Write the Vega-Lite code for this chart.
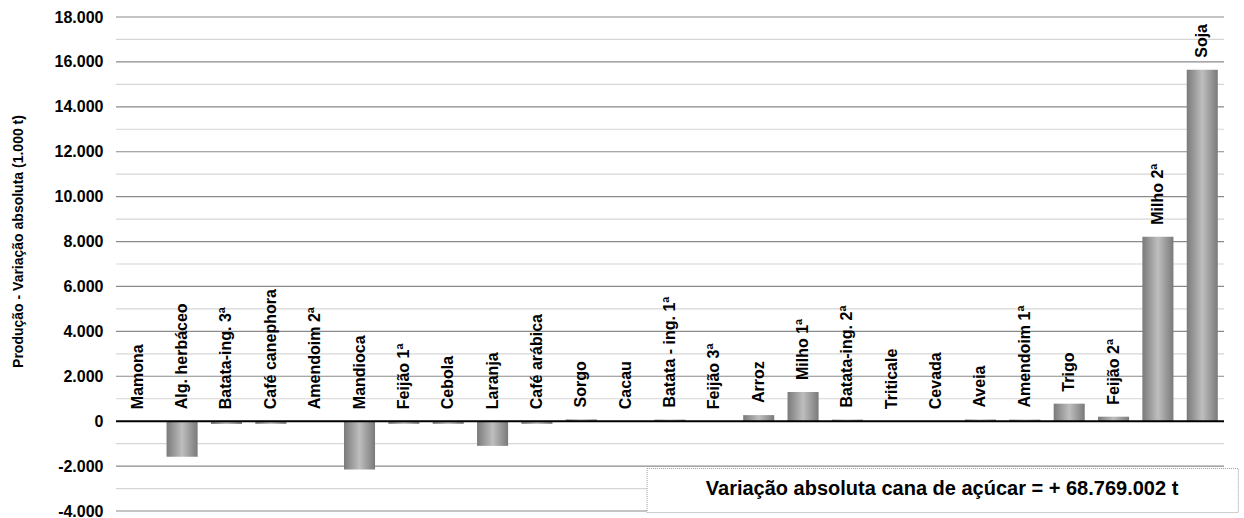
{
  "$schema": "https://vega.github.io/schema/vega-lite/v6.json",
  "width": 1108,
  "height": 494,
  "autosize": {"type": "none"},
  "padding": {"left": 116, "top": 17, "right": 20, "bottom": 7},
  "background": "white",
  "config": {
    "view": {"stroke": null},
    "font": "Liberation Sans",
    "locale": {"number": {"decimal": ",", "thousands": ".", "grouping": [3], "currency": ["R$", ""], "minus": "-"}}
  },
  "datasets": {
    "crops": [
      {"crop": "Mamona", "value": 0},
      {"crop": "Alg. herbáceo", "value": -1580},
      {"crop": "Batata-ing. 3ª", "value": -120},
      {"crop": "Café canephora", "value": -120},
      {"crop": "Amendoim 2ª", "value": 0},
      {"crop": "Mandioca", "value": -2150},
      {"crop": "Feijão 1ª", "value": -120},
      {"crop": "Cebola", "value": -120},
      {"crop": "Laranja", "value": -1100},
      {"crop": "Café arábica", "value": -120},
      {"crop": "Sorgo", "value": 80},
      {"crop": "Cacau", "value": 0},
      {"crop": "Batata - ing. 1ª", "value": 70},
      {"crop": "Feijão 3ª", "value": 0},
      {"crop": "Arroz", "value": 270},
      {"crop": "Milho 1ª", "value": 1300},
      {"crop": "Batata-ing. 2ª", "value": 70},
      {"crop": "Triticale", "value": 0},
      {"crop": "Cevada", "value": 0},
      {"crop": "Aveia", "value": 70},
      {"crop": "Amendoim 1ª", "value": 70},
      {"crop": "Trigo", "value": 780},
      {"crop": "Feijão 2ª", "value": 200},
      {"crop": "Milho 2ª", "value": 8210},
      {"crop": "Soja", "value": 15650}
    ],
    "gridlines": [
      {"g": -4000, "major": true}, {"g": -3000, "major": false}, {"g": -2000, "major": true}, {"g": -1000, "major": false},
      {"g": 1000, "major": false}, {"g": 2000, "major": true}, {"g": 3000, "major": false}, {"g": 4000, "major": true},
      {"g": 5000, "major": false}, {"g": 6000, "major": true}, {"g": 7000, "major": false}, {"g": 8000, "major": true},
      {"g": 9000, "major": false}, {"g": 10000, "major": true}, {"g": 11000, "major": false}, {"g": 12000, "major": true},
      {"g": 13000, "major": false}, {"g": 14000, "major": true}, {"g": 15000, "major": false}, {"g": 16000, "major": true},
      {"g": 17000, "major": false}, {"g": 18000, "major": true}
    ],
    "note": [
      {"y0": -2110, "y1": -4070, "yt": -3040, "text": "Variação absoluta cana de açúcar = + 68.769.002 t"}
    ]
  },
  "encoding": {
    "x": {"field": "crop", "type": "nominal", "sort": null, "scale": {"paddingInner": 0.3, "paddingOuter": 0.14}, "axis": null}
  },
  "layer": [
    {
      "data": {"name": "gridlines"},
      "mark": {"type": "rule", "strokeWidth": 1.2},
      "encoding": {
        "x": null,
        "y": {"field": "g", "type": "quantitative", "title": "Produção - Variação absoluta (1.000 t)"},
        "color": {"condition": {"test": "datum.major", "value": "#8a8a8a"}, "value": "#d6d6d6"}
      }
    },
    {
      "data": {"name": "crops"},
      "mark": {
        "type": "bar",
        "fill": {
          "gradient": "linear",
          "x1": 0, "y1": 0, "x2": 1, "y2": 0,
          "stops": [
            {"offset": 0, "color": "#7a7a7a"},
            {"offset": 0.5, "color": "#bebebe"},
            {"offset": 1, "color": "#7a7a7a"}
          ]
        }
      },
      "encoding": {
        "y": {
          "field": "value", "type": "quantitative",
          "title": "Produção - Variação absoluta (1.000 t)",
          "scale": {"domain": [-4000, 18000], "nice": false},
          "axis": {
            "titleFont": "Liberation Sans", "titleFontSize": 14, "titleFontWeight": "bold", "titleColor": "black",
            "titleX": -98, "titleY": 224, "titleAngle": 270, "titleBaseline": "middle", "titleAlign": "center", "titleLimit": 400,
            "values": [-4000, -2000, 0, 2000, 4000, 6000, 8000, 10000, 12000, 14000, 16000, 18000],
            "format": ",.0f",
            "labelFont": "Liberation Sans", "labelFontSize": 16, "labelFontWeight": "bold", "labelColor": "black",
            "labelPadding": 13,
            "ticks": false, "domain": false,
            "grid": false
          }
        }
      }
    },
    {
      "data": {"values": [{"v": 0}]},
      "mark": {"type": "rule", "color": "black", "strokeWidth": 2},
      "encoding": {"x": null, "y": {"field": "v", "type": "quantitative", "title": "Produção - Variação absoluta (1.000 t)"}}
    },
    {
      "data": {"name": "crops"},
      "transform": [{"calculate": "max(datum.value, 0)", "as": "anchor"}],
      "mark": {"type": "text", "angle": 270, "align": "left", "baseline": "middle", "dx": 12, "font": "Liberation Sans", "fontWeight": "bold", "fontSize": 16, "color": "black"},
      "encoding": {
        "y": {"field": "anchor", "type": "quantitative", "title": "Produção - Variação absoluta (1.000 t)"},
        "text": {"field": "crop"}
      }
    },
    {
      "data": {"name": "note"},
      "mark": {"type": "rect", "fill": "white", "stroke": "#9a9a9a", "strokeWidth": 1, "strokeDash": [1, 1]},
      "encoding": {
        "x": {"datum": "Cacau", "bandPosition": 1.19},
        "x2": {"datum": "Soja", "bandPosition": 1.66},
        "y": {"field": "y0", "type": "quantitative", "title": "Produção - Variação absoluta (1.000 t)"},
        "y2": {"field": "y1"}
      }
    },
    {
      "data": {"name": "note"},
      "mark": {"type": "text", "align": "center", "baseline": "middle", "font": "Liberation Sans", "fontWeight": "bold", "fontSize": 20, "color": "black"},
      "encoding": {
        "x": {"datum": "Cevada", "bandPosition": 0.69},
        "y": {"field": "yt", "type": "quantitative", "title": "Produção - Variação absoluta (1.000 t)"},
        "text": {"field": "text"}
      }
    }
  ]
}
